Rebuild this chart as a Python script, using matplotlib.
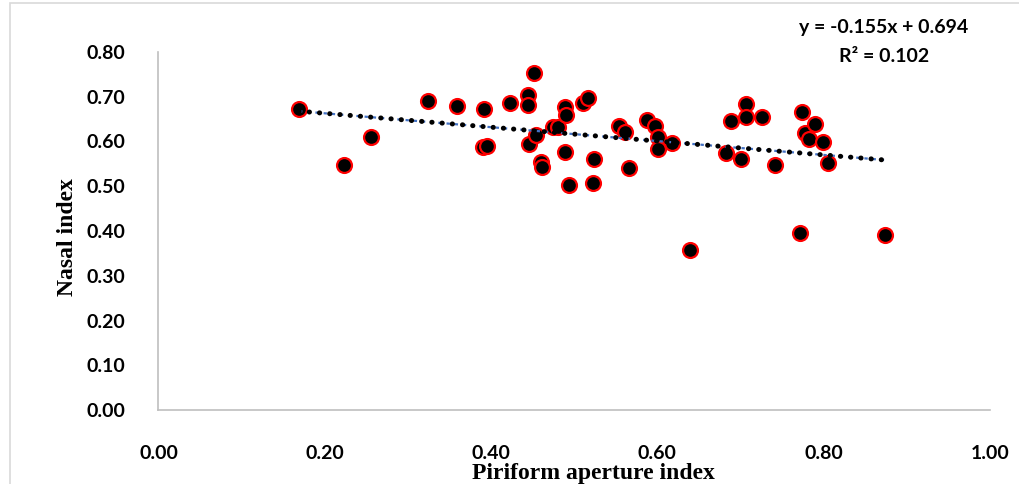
import numpy as np
import matplotlib.pyplot as plt
from matplotlib.patches import Rectangle

# Piriform aperture index (x) vs nasal index (y)
pai = [0.169, 0.223, 0.255, 0.324, 0.359, 0.391, 0.390, 0.395, 0.423, 0.444,
       0.444, 0.446, 0.451, 0.454, 0.460, 0.461, 0.475, 0.480, 0.489, 0.490,
       0.489, 0.494, 0.511, 0.516, 0.523, 0.524, 0.554, 0.561, 0.566, 0.587,
       0.597, 0.601, 0.601, 0.618, 0.639, 0.682, 0.688, 0.700, 0.707, 0.707,
       0.726, 0.741, 0.774, 0.771, 0.777, 0.782, 0.790, 0.799, 0.805, 0.874]
nasal = [0.673, 0.547, 0.610, 0.690, 0.679, 0.673, 0.587, 0.590, 0.685, 0.704,
         0.681, 0.594, 0.753, 0.615, 0.555, 0.544, 0.633, 0.632, 0.676, 0.659,
         0.577, 0.503, 0.685, 0.697, 0.508, 0.562, 0.635, 0.621, 0.540, 0.647,
         0.635, 0.611, 0.583, 0.597, 0.358, 0.574, 0.646, 0.561, 0.683, 0.654,
         0.654, 0.547, 0.667, 0.395, 0.618, 0.606, 0.638, 0.600, 0.551, 0.391]

slope = -0.155
intercept = 0.694
r2 = 0.102

xticks = [0.0, 0.2, 0.4, 0.6, 0.8, 1.0]
yticks = [0.0, 0.1, 0.2, 0.3, 0.4, 0.5, 0.6, 0.7, 0.8]

fig = plt.figure(figsize=(10.2, 4.84), dpi=100)
ax = fig.add_axes([158.5 / 1020, 1 - 410 / 484, (990 - 158.5) / 1020, (410 - 52) / 484])

# outer chart border
fig.patches.append(Rectangle((10 / 1020, -0.05), 1.1, 1 - 3 / 484 + 0.05,
                             transform=fig.transFigure, fill=False,
                             edgecolor='#D9D9D9', linewidth=1.2))

ax.scatter(pai, nasal, s=115, facecolor='black', edgecolor='#FF0000',
           linewidth=1.6, zorder=3)

# linear trendline
tx = np.array([min(pai), max(pai)])
ty = slope * tx + intercept
ax.plot(tx, ty, color='#4472C4', lw=1.6, ls=(0, (1.5, 2.2)), zorder=4)
ax.plot(tx, ty, color='black', lw=3.6, ls=(0, (0.05, 2.0)),
        dash_capstyle='round', zorder=5)

ax.set_xlim(0, 1.0)
ax.set_ylim(0, 0.8)
ax.set_xticks(xticks)
ax.set_yticks(yticks)
ax.set_xticklabels([f'{v:.2f}' for v in xticks])
ax.set_yticklabels([f'{v:.2f}' for v in yticks])
for lab in ax.get_xticklabels() + ax.get_yticklabels():
    lab.set_fontfamily('Lato')
    lab.set_fontweight('bold')
    lab.set_fontsize(14)
ax.tick_params(length=0)
ax.tick_params(axis='x', pad=25)
ax.tick_params(axis='y', pad=24)

for side in ['top', 'right']:
    ax.spines[side].set_visible(False)
ax.spines['left'].set_color('#BFBFBF')
ax.spines['bottom'].set_color('#BFBFBF')
ax.spines['left'].set_linewidth(1.2)
ax.spines['bottom'].set_linewidth(1.2)

fig.text(593 / 1020, 1 - 473 / 484, 'Piriform aperture index', ha='center', va='center',
         fontfamily='Liberation Serif', fontweight='bold', fontsize=17)
fig.text(68 / 1020, 1 - 237 / 484, 'Nasal index', ha='center', va='center', rotation=90,
         fontfamily='Liberation Serif', fontweight='bold', fontsize=17)

fig.text(884 / 1020, 1 - 28 / 484, f'y = {slope:.3f}x + {intercept:.3f}', ha='center',
         va='center', fontfamily='Lato', fontweight='bold', fontsize=14)
fig.text(884 / 1020, 1 - 56 / 484, f'R² = {r2:.3f}', ha='center', va='center',
         fontfamily='Lato', fontweight='bold', fontsize=14)

fig.savefig('out.png', dpi=100)
